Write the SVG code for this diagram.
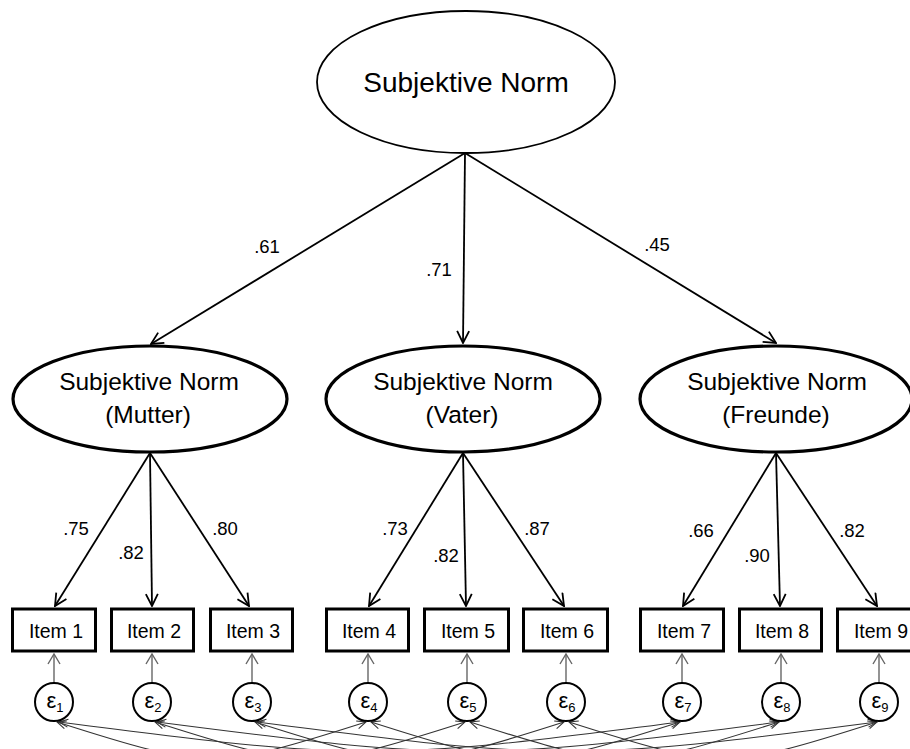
<svg xmlns="http://www.w3.org/2000/svg" width="910" height="749" viewBox="0 0 910 749">
<style>
  text { font-family: "Liberation Sans", Arial, sans-serif; fill: #000; }
  .lat { fill: #fff; stroke: #000; }
  .item { fill: #fff; stroke: #000; stroke-width: 3; }
  .itxt { font-size: 19.5px; text-anchor: middle; }
  .lbl { font-size: 18.5px; text-anchor: middle; }
  .eps { fill: #fff; stroke: #000; stroke-width: 2; }
  .etxt { font-size: 22px; text-anchor: middle; }
  .load { stroke: #000; stroke-width: 1.8; fill: none; marker-end: url(#arrBig); }
  .err { stroke: #666; stroke-width: 1.4; fill: none; marker-end: url(#arrGray); }
  .cov { stroke: #333; stroke-width: 1.1; fill: none; marker-start: url(#arrCov); marker-end: url(#arrCov); }
</style>
<defs>
  <marker id="arrBig" markerUnits="userSpaceOnUse" viewBox="0 0 14 14" markerWidth="14" markerHeight="14" refX="13" refY="7" orient="auto">
    <path d="M1,1 L13,7 L1,13" fill="none" stroke="#000" stroke-width="1.8"/>
  </marker>
  <marker id="arrGray" markerUnits="userSpaceOnUse" viewBox="0 0 12 14" markerWidth="12" markerHeight="14" refX="11" refY="7" orient="auto">
    <path d="M1,1 L11,7 L1,13" fill="none" stroke="#666" stroke-width="1.4"/>
  </marker>
  <marker id="arrCov" markerUnits="userSpaceOnUse" viewBox="0 0 10 10" markerWidth="10" markerHeight="10" refX="9.5" refY="5" orient="auto-start-reverse">
    <path d="M0.5,1 L9.5,5 L0.5,9" fill="none" stroke="#333" stroke-width="1.1"/>
  </marker>
</defs>

<g id="connectors">
  <line class="load" x1="465" y1="153" x2="151" y2="344"/>
  <line class="load" x1="465" y1="153" x2="463" y2="343"/>
  <line class="load" x1="465" y1="153" x2="776" y2="343"/>
  <line class="load" x1="150" y1="453" x2="55" y2="606"/>
  <line class="load" x1="150" y1="453" x2="152" y2="606"/>
  <line class="load" x1="150" y1="453" x2="249" y2="606"/>
  <line class="load" x1="463" y1="453" x2="369" y2="606"/>
  <line class="load" x1="463" y1="453" x2="466" y2="606"/>
  <line class="load" x1="463" y1="453" x2="564" y2="606"/>
  <line class="load" x1="776" y1="453" x2="683" y2="606"/>
  <line class="load" x1="776" y1="453" x2="780" y2="606"/>
  <line class="load" x1="776" y1="453" x2="877" y2="606"/>
  <line class="err" x1="54" y1="683" x2="54" y2="654"/>
  <line class="err" x1="152" y1="683" x2="152" y2="654"/>
  <line class="err" x1="252" y1="683" x2="252" y2="654"/>
  <line class="err" x1="368" y1="683" x2="368" y2="654"/>
  <line class="err" x1="467" y1="683" x2="467" y2="654"/>
  <line class="err" x1="566" y1="683" x2="566" y2="654"/>
  <line class="err" x1="682" y1="683" x2="682" y2="654"/>
  <line class="err" x1="781" y1="683" x2="781" y2="654"/>
  <line class="err" x1="879" y1="683" x2="879" y2="654"/>
  <path class="cov" d="M57,722 C207,770 216,770 366,722"/>
  <path class="cov" d="M155,722 C305,770 315,770 465,722"/>
  <path class="cov" d="M255,722 C405,770 414,770 564,722"/>
  <path class="cov" d="M371,722 C521,770 530,770 680,722"/>
  <path class="cov" d="M470,722 C620,770 629,770 779,722"/>
  <path class="cov" d="M569,722 C719,770 727,770 877,722"/>
  <path class="cov" d="M59,722 C359,761 380,761 680,722"/>
  <path class="cov" d="M157,722 C457,761 479,761 779,722"/>
  <path class="cov" d="M257,722 C557,761 577,761 877,722"/>
</g>

<g id="SN">
  <ellipse class="lat" cx="466" cy="82" rx="149" ry="71" stroke-width="1.8"/>
  <text x="466" y="92" font-size="28" text-anchor="middle">Subjektive Norm</text>
</g>
<g id="SN_Mutter">
  <ellipse class="lat" cx="150" cy="399" rx="137" ry="53" stroke-width="3.2"/>
  <text x="149" y="390" font-size="24.5" text-anchor="middle">Subjektive Norm</text>
  <text x="148" y="423" font-size="24.5" text-anchor="middle">(Mutter)</text>
</g>
<g id="SN_Vater">
  <ellipse class="lat" cx="463" cy="399" rx="137" ry="53" stroke-width="3.2"/>
  <text x="463" y="390" font-size="24.5" text-anchor="middle">Subjektive Norm</text>
  <text x="462" y="423" font-size="24.5" text-anchor="middle">(Vater)</text>
</g>
<g id="SN_Freunde">
  <ellipse class="lat" cx="776" cy="399" rx="136" ry="53" stroke-width="3.2"/>
  <text x="777" y="390" font-size="24.5" text-anchor="middle">Subjektive Norm</text>
  <text x="776" y="423" font-size="24.5" text-anchor="middle">(Freunde)</text>
</g>

<g id="labels">
  <text class="lbl" x="267" y="253">.61</text>
  <text class="lbl" x="439" y="276">.71</text>
  <text class="lbl" x="657" y="251">.45</text>
  <text class="lbl" x="76" y="535">.75</text>
  <text class="lbl" x="131" y="559">.82</text>
  <text class="lbl" x="225" y="535">.80</text>
  <text class="lbl" x="395" y="535">.73</text>
  <text class="lbl" x="446" y="562">.82</text>
  <text class="lbl" x="537" y="535">.87</text>
  <text class="lbl" x="701" y="537">.66</text>
  <text class="lbl" x="757" y="562">.90</text>
  <text class="lbl" x="852" y="537">.82</text>
</g>

<g id="item1"><rect class="item" x="12.5" y="609" width="83" height="42"/><text class="itxt" x="56" y="638">Item 1</text></g>
<g id="item2"><rect class="item" x="111.5" y="609" width="82" height="42"/><text class="itxt" x="154" y="638">Item 2</text></g>
<g id="item3"><rect class="item" x="210.5" y="609" width="82" height="42"/><text class="itxt" x="253" y="638">Item 3</text></g>
<g id="item4"><rect class="item" x="326.5" y="609" width="82" height="42"/><text class="itxt" x="369" y="638">Item 4</text></g>
<g id="item5"><rect class="item" x="424.5" y="609" width="84" height="42"/><text class="itxt" x="468" y="638">Item 5</text></g>
<g id="item6"><rect class="item" x="523.5" y="609" width="84" height="42"/><text class="itxt" x="567" y="638">Item 6</text></g>
<g id="item7"><rect class="item" x="640.5" y="609" width="83" height="42"/><text class="itxt" x="684" y="638">Item 7</text></g>
<g id="item8"><rect class="item" x="739.5" y="609" width="82" height="42"/><text class="itxt" x="782" y="638">Item 8</text></g>
<g id="item9"><rect class="item" x="837.5" y="609" width="83" height="42"/><text class="itxt" x="881" y="638">Item 9</text></g>

<g id="e1"><circle class="eps" cx="54" cy="702" r="19"/><text class="etxt" x="55" y="708">ε<tspan font-size="13" dy="4">1</tspan></text></g>
<g id="e2"><circle class="eps" cx="152" cy="702" r="19"/><text class="etxt" x="153" y="708">ε<tspan font-size="13" dy="4">2</tspan></text></g>
<g id="e3"><circle class="eps" cx="252" cy="702" r="19"/><text class="etxt" x="253" y="708">ε<tspan font-size="13" dy="4">3</tspan></text></g>
<g id="e4"><circle class="eps" cx="368" cy="702" r="19"/><text class="etxt" x="369" y="708">ε<tspan font-size="13" dy="4">4</tspan></text></g>
<g id="e5"><circle class="eps" cx="467" cy="702" r="19"/><text class="etxt" x="468" y="708">ε<tspan font-size="13" dy="4">5</tspan></text></g>
<g id="e6"><circle class="eps" cx="566" cy="702" r="19"/><text class="etxt" x="567" y="708">ε<tspan font-size="13" dy="4">6</tspan></text></g>
<g id="e7"><circle class="eps" cx="682" cy="702" r="19"/><text class="etxt" x="683" y="708">ε<tspan font-size="13" dy="4">7</tspan></text></g>
<g id="e8"><circle class="eps" cx="781" cy="702" r="19"/><text class="etxt" x="782" y="708">ε<tspan font-size="13" dy="4">8</tspan></text></g>
<g id="e9"><circle class="eps" cx="879" cy="702" r="19"/><text class="etxt" x="880" y="708">ε<tspan font-size="13" dy="4">9</tspan></text></g>
</svg>
